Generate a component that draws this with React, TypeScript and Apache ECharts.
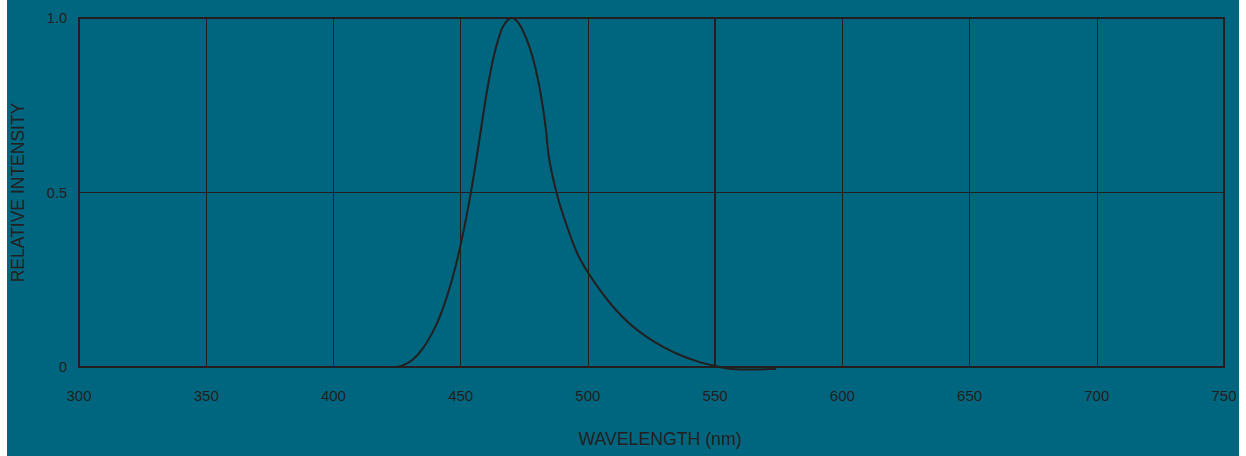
import React, { useEffect, useRef } from "react";
import * as echarts from "echarts";

const wavelengths = [
  423, 427, 431, 435, 439, 442, 445, 448, 451, 454, 457, 459, 461, 463, 465, 467, 470,
  472.5, 475, 477, 479, 481, 482.5, 483.5, 484.5, 486, 487.5, 489, 491, 493.6, 496.5, 500.1,
  505, 510, 516, 523, 529, 536, 543, 550, 555, 560, 567, 571, 574,
];
const intensities = [
  0, 0.004, 0.02, 0.052, 0.1, 0.148, 0.211, 0.289, 0.385, 0.499, 0.634, 0.73, 0.818, 0.89, 0.944,
  0.98, 1.0, 0.988, 0.955, 0.918, 0.868, 0.8, 0.735, 0.68, 0.61, 0.55, 0.505, 0.465, 0.42, 0.366,
  0.315, 0.27, 0.218, 0.172, 0.127, 0.087, 0.06, 0.035, 0.016, 0.003, -0.004, -0.007, -0.007,
  -0.006, -0.005,
];

const xMin = 300;
const xMax = 750;
const xStep = 50;
const yTicks = [0, 0.5, 1.0];
const highlightLine = 550;

const xName = "WAVELENGTH (nm)";
const yName = "RELATIVE INTENSITY";

const BG = "#00657e";
const INK = "#231f20";

export default function App() {
  const ref = useRef<HTMLDivElement>(null);

  useEffect(() => {
    document.body.style.margin = "0";
    if (!ref.current) return;
    const chart = echarts.init(ref.current, undefined, { renderer: "svg" });
    const fontFamily = "Liberation Sans, Arial, Helvetica, sans-serif";
    chart.setOption({
      animation: false,
      backgroundColor: BG,
      grid: {
        left: 72,
        right: 15,
        top: 18,
        bottom: 89,
        outerBoundsMode: "none",
        containLabel: false,
        show: true,
        borderColor: INK,
        borderWidth: 2,
        backgroundColor: "transparent",
      },
      xAxis: {
        type: "value",
        min: xMin,
        max: xMax,
        interval: xStep,
        name: xName,
        nameLocation: "middle",
        nameGap: 63,
        nameTextStyle: { color: INK, fontSize: 17.7, fontFamily, padding: [0, 0, 0, 17] },
        axisLine: { show: false },
        axisTick: { show: false },
        axisLabel: { color: INK, fontSize: 15, fontFamily, margin: 21 },
        splitLine: { show: true, lineStyle: { color: INK, width: 1 } },
      },
      yAxis: {
        type: "value",
        min: 0,
        max: 1,
        interval: 0.5,
        name: yName,
        nameLocation: "middle",
        nameGap: 52,
        nameTextStyle: { color: INK, fontSize: 17.5, fontFamily },
        axisLine: { show: false },
        axisTick: { show: false },
        axisLabel: {
          color: INK,
          fontSize: 14.5,
          fontFamily,
          margin: 12,
          padding: [0, 0, 8, 0],
          formatter: (v: number) => {
            const t = yTicks.find((k) => Math.abs(k - v) < 1e-9);
            if (t === undefined) return "";
            return t === 0 ? "0" : t.toFixed(1);
          },
        },
        splitLine: { show: true, lineStyle: { color: INK, width: 1 } },
      },
      series: [
        {
          type: "line",
          data: wavelengths.map((w, i) => [w, intensities[i]]),
          smooth: 0.35,
          showSymbol: false,
          clip: false,
          lineStyle: { color: INK, width: 2 },
          markLine: {
            silent: true,
            symbol: "none",
            label: { show: false },
            lineStyle: { color: INK, width: 2, type: "solid" },
            data: [{ xAxis: highlightLine }],
          },
        },
      ],
    });
    return () => chart.dispose();
  }, []);

  return (
    <div
      ref={ref}
      style={{ position: "absolute", left: 7, top: 0, width: 1232, height: 456 }}
    />
  );
}
